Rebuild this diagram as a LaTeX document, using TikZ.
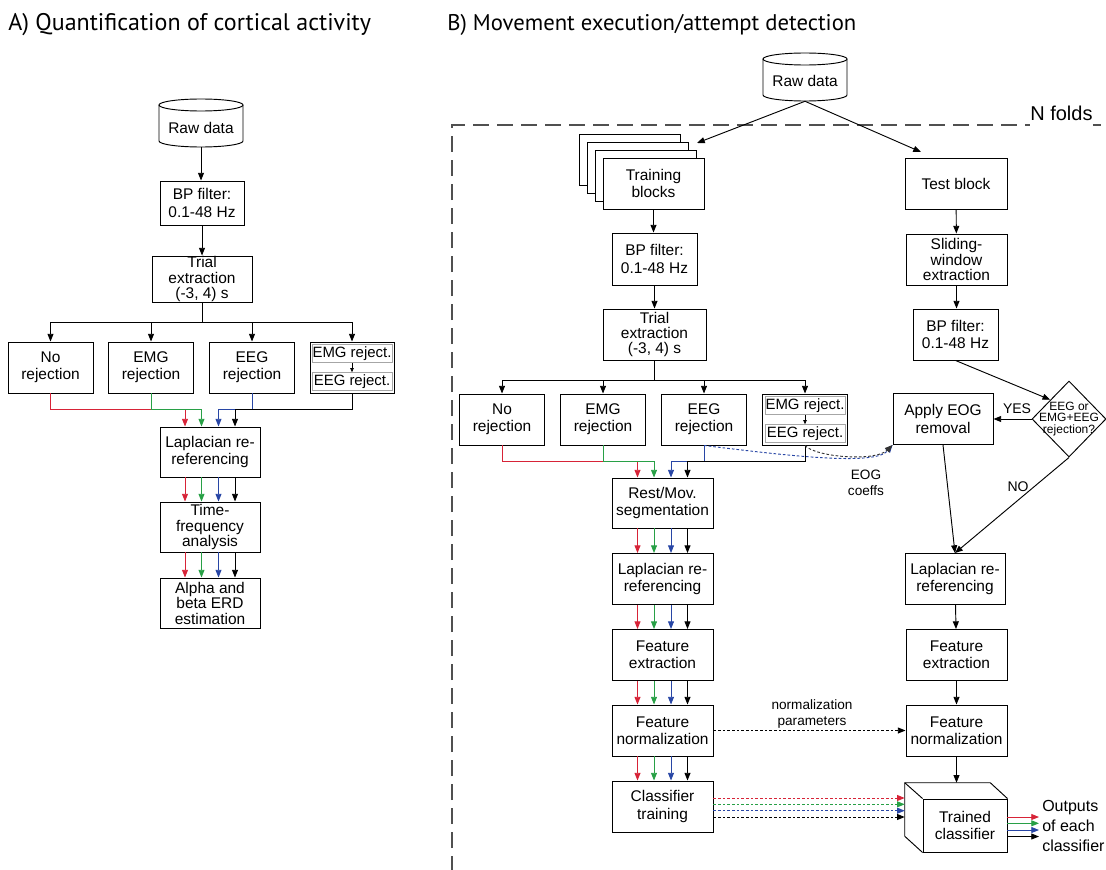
\documentclass[tikz,border=0pt]{standalone}
\usepackage{fontspec}
\setmainfont{Liberation Sans}
\newfontfamily\hdrfont{PT Sans}
\usetikzlibrary{arrows.meta,calc,shapes.geometric}
\definecolor{cred}{RGB}{215,35,55}
\definecolor{cgreen}{RGB}{40,160,70}
\definecolor{cblue}{RGB}{40,70,165}
\definecolor{framecol}{RGB}{80,80,80}
\newcommand\bxfont{\fontsize{11.6}{12.9}\selectfont}
\newcommand\bxtight{\fontsize{11.6}{11.6}\selectfont}
\newcommand\lblfont{\fontsize{10.2}{11.8}\selectfont}
\newcommand\cyl[3]{%
  \draw[ln,fill=white] (#1-42,#2) -- (#1-42,#3) arc[start angle=180,end angle=0,x radius=42,y radius=6] -- (#1+42,#2);
  \draw[ln,fill=white] (#1,#2) ellipse[x radius=42,y radius=6];}
\newcommand\fourarrows[2]{%
  \foreach \dx/\c in {-25/cred,-8.5/cgreen,8.5/cblue,25/black}{%
    \draw[arr,\c] ($(#1.south)+(\dx,0)$) -- ($(#2.north)+(\dx,0)$);}}
\begin{document}
\begin{tikzpicture}[x=0.75pt,y=-0.75pt,
  every node/.style={inner sep=0pt, align=center, font=\bxfont},
  ln/.style={line width=0.7pt},
  bx/.style 2 args={draw, line width=0.7pt, fill=white, minimum width=#1*0.75pt, minimum height=#2*0.75pt},
  inbx/.style={draw=gray!70, line width=0.5pt, minimum width=80*0.75pt, minimum height=18*0.75pt, font=\fontsize{11.2}{12}\selectfont},
  arr/.style={-{Triangle[length=5.8pt,width=4.5pt]}, line width=0.7pt},
  smallarr/.style={-{Triangle[length=3pt,width=2.6pt]}, line width=0.5pt},
  dotarr/.style={arr, dash pattern=on 2pt off 1.5pt},
  frame/.style={draw=framecol, line width=0.8pt, dash pattern=on 12pt off 6pt},
  hdr/.style={anchor=base west, font=\hdrfont\fontsize{17}{20}\selectfont}]
\useasboundingbox (0,0) rectangle (1106,870);

% ---------------- headers
\node[hdr, font=\hdrfont\fontsize{18}{21}\selectfont] (hA) at (8,31) {A) Quantification of cortical activity};
\node[hdr] (hB) at (447,31) {B) Movement execution/attempt detection};

% ---------------- panel A
\cyl{201}{105}{141}
\node[minimum width=63pt, minimum height=38*0.75pt] (rawA) at (201,128) {Raw data};
\node[bx={84}{44}] (bpA) at (202,203) {BP filter:\\0.1-48 Hz};
\node[bx={100}{46}, font=\bxtight] (trialA) at (202,279) {Trial\\extraction\\(-3, 4) s};
\node[bx={85}{51}] (norejA) at (50.5,367.5) {No\\rejection};
\node[bx={85}{51}] (emgA) at (151,367.5) {EMG\\rejection};
\node[bx={85}{51}] (eegA) at (252,367.5) {EEG\\rejection};
\node[bx={84}{51}] (bothA) at (352,367.5) {};
\node[inbx] (emgrA) at (352,353.5) {EMG reject.};
\node[inbx] (eegrA) at (352,381.5) {EEG reject.};
\draw[smallarr] (emgrA) -- (eegrA);
\node[bx={100}{50}] (lapA) at (210,452) {Laplacian re-\\referencing};
\node[bx={100}{50}, font=\bxtight] (tfA) at (210,527) {Time-\\frequency\\analysis};
\node[bx={100}{50}, font=\bxtight] (erdA) at (210,603) {Alpha and\\beta ERD\\estimation};

\draw[arr] (rawA.south) -- (rawA.south |- bpA.north);
\draw[arr] (bpA) -- (trialA);
\coordinate (busA) at (202,322);
\draw[ln] (trialA.south) -- (busA);
\foreach \n in {norejA,emgA,eegA,bothA} \draw[arr] (busA) -| (\n.north);
\coordinate (mA) at (0,409);
\draw[arr,cred]   (norejA.south) -- (norejA.south |- mA) -| ($(lapA.north)+(-25,0)$);
\draw[arr,cgreen] (emgA.south) -- (emgA.south |- mA) -| ($(lapA.north)+(-8.5,0)$);
\draw[arr,cblue]  (eegA.south) -- (eegA.south |- mA) -| ($(lapA.north)+(8.5,0)$);
\draw[arr,black]  (bothA.south) -- (bothA.south |- mA) -| ($(lapA.north)+(25,0)$);
\fourarrows{lapA}{tfA}
\fourarrows{tfA}{erdA}

% ---------------- panel B
\cyl{805}{59}{95}
\node[minimum width=63pt, minimum height=30pt] (rawB) at (805,81) {Raw data};

% N folds frame
\node[anchor=base west, font=\fontsize{15}{18}\selectfont] (nf) at (1030,121) {N folds};
\coordinate (frameTL) at (452,125);
\coordinate (frameBL) at (452,872);
\draw[frame] (frameBL) -- (frameTL) -- (nf.west |- frameTL);
\draw[draw=framecol, line width=0.8pt] (nf.east |- frameTL) -- ++(8,0);

% training stack
\foreach \k in {3,2,1} \draw[ln,fill=white] (603-8*\k,158-8*\k) rectangle ++(101,51);
\node[bx={101}{51}] (trainB) at (653.5,183.5) {Training\\blocks};
\node[bx={102}{51}] (testB) at (956,183.5) {Test block};
\coordinate (trainTip) at (697,143);
\coordinate (testTip) at (921,152);
\draw[arr] (rawB.south) -- (trainTip);
\draw[arr] (rawB.south) -- (testTip);

\node[bx={85}{52}] (bpB) at (654.5,259) {BP filter:\\0.1-48 Hz};
\node[bx={103}{51}, font=\bxtight] (trialB) at (654.5,334.5) {Trial\\extraction\\(-3, 4) s};
\node[bx={101}{51}, font=\bxtight] (slideB) at (956.5,259.5) {Sliding-\\window\\extraction};
\node[bx={85}{51}] (bpTB) at (955.5,334.5) {BP filter:\\0.1-48 Hz};

\draw[arr] (trainB.south) -- (trainB.south |- bpB.north);
\draw[arr] (bpB) -- (trialB);
\draw[arr] (testB) -- (slideB);
\draw[arr] (slideB.south) -- (slideB.south |- bpTB.north);

\node[bx={85}{51}] (norejB) at (502,419.5) {No\\rejection};
\node[bx={85}{51}] (emgB) at (603,419.5) {EMG\\rejection};
\node[bx={85}{51}] (eegB) at (704,419.5) {EEG\\rejection};
\node[bx={85}{51}] (bothB) at (805,419.5) {};
\node[inbx] (emgrB) at (805,405.5) {EMG reject.};
\node[inbx] (eegrB) at (805,433.5) {EEG reject.};
\draw[smallarr] (emgrB) -- (eegrB);

\coordinate (busB) at (654.5,380);
\draw[ln] (trialB.south) -- (busB);
\foreach \n in {norejB,emgB,eegB,bothB} \draw[arr] (busB) -| (\n.north);

\node[bx={100}{51}, font=\fontsize{11.6}{13.8}\selectfont] (applyB) at (943,419) {Apply EOG\\removal};
\node[draw, line width=0.7pt, diamond, fill=white, minimum width=74*0.75pt, minimum height=76*0.75pt] (dec) at (1069,419) {};
\node[font=\fontsize{9}{8.8}\selectfont] (dect) at (1069,419) {EEG or\\EMG+EEG\\rejection?};

\node[bx={101}{50}] (restB) at (662.5,503) {Rest/Mov.\\segmentation};
\node[bx={101}{51}] (lapB) at (662.5,579) {Laplacian re-\\referencing};
\node[bx={101}{51}] (featB) at (662.5,655) {Feature\\extraction};
\node[bx={101}{51}] (fnB) at (662.5,730.5) {Feature\\normalization};
\node[bx={101}{51}] (clfB) at (662.5,806.5) {Classifier\\training};

\node[bx={100}{51}] (lapTB) at (955,579) {Laplacian re-\\referencing};
\node[bx={101}{51}] (featTB) at (956.5,655) {Feature\\extraction};
\node[bx={101}{51}] (fnTB) at (956.5,730.5) {Feature\\normalization};

% trained classifier (3D box)
\node[minimum width=85*0.75pt, minimum height=53*0.75pt] (trback) at (947.5,809.5) {};
\node[bx={84}{53}] (trained) at (965,825.5) {Trained\\classifier};
\draw[ln] (trback.south west) -- (trback.north west) -- (trback.north east) -- (trained.north east);
\draw[ln] (trback.south west) -- (trained.south west);
\draw[ln] (trback.north west) -- (trained.north west);

% colored merge into Rest/Mov
\coordinate (mB) at (0,461);
\draw[arr,cred]   (norejB.south) -- (norejB.south |- mB) -| ($(restB.north)+(-25,0)$);
\draw[arr,cgreen] (emgB.south) -- (emgB.south |- mB) -| ($(restB.north)+(-8.5,0)$);
\draw[arr,cblue]  (eegB.south) -- (eegB.south |- mB) -| ($(restB.north)+(8.5,0)$);
\draw[arr,black]  (bothB.south) -- (bothB.south |- mB) -| ($(restB.north)+(25,0)$);
\fourarrows{restB}{lapB}
\fourarrows{lapB}{featB}
\fourarrows{featB}{fnB}
\fourarrows{fnB}{clfB}

% EOG coefficient curves
\draw[dotarr,cblue] (eegB.south) .. controls (790,456) and (875,466) .. (applyB.south west);
\draw[dotarr,black!80] (bothB.south) .. controls (815,457) and (875,462) .. (applyB.south west);
\node[font=\lblfont] (eogl) at (866,483) {EOG\\coeffs};

% test branch
\draw[arr] (bpTB.south) -- (dec.north west);
\draw[arr] (dec.west) -- (applyB.east);
\node[font=\fontsize{10.5}{12}\selectfont] (yes) at (1017,409) {YES};
\draw[arr] (applyB.south) -- (lapTB.north);
\draw[arr] (dec.south) -- (lapTB.north);
\node[font=\fontsize{10.5}{12}\selectfont] (no) at (1018,487) {NO};
\draw[arr] (lapTB) -- (featTB);
\draw[arr] (featTB) -- (fnTB);
\draw[arr] (fnTB.south) -- (fnTB.south |- trback.north);

% normalization parameters
\draw[dotarr] (fnB.east) -- (fnTB.west);
\node[font=\lblfont] (npl) at (812,714) {normalization\\parameters};

% classifier transfer
\foreach \dy/\c in {-8.5/cred,-2.2/cgreen,4.2/cblue,10.5/black}{%
  \draw[dotarr,\c] ($(clfB.east)+(0,\dy)$) -- ($(clfB.east -| trback.west)+(0,\dy)$);}

% outputs
\coordinate (outs) at (1039,825.5);
\foreach \dy/\c in {-8.5/cred,-2.2/cgreen,4.5/cblue,11/black}{%
  \draw[arr,\c] ($(trained.east)+(0,\dy)$) -- ($(trained.east -| outs)+(0,\dy)$);}
\node[anchor=west, align=left, font=\fontsize{12}{15.2}\selectfont] (outT) at (1042,826) {Outputs\\of each\\classifier};
\end{tikzpicture}
\end{document}
